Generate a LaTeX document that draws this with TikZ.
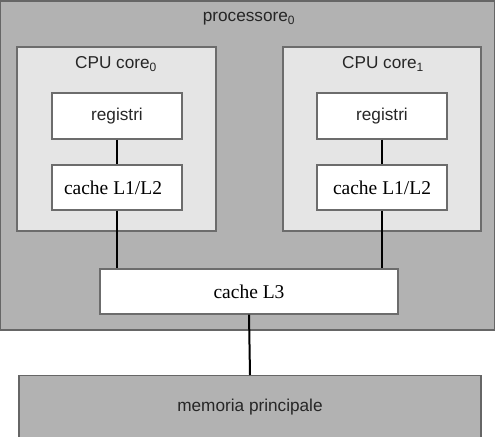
\documentclass[tikz,border=0pt]{standalone}
\usepackage{fontspec}
\setmainfont{Liberation Serif}
\newfontfamily\arialfont{Liberation Sans}
\begin{document}
\begin{tikzpicture}[x=1bp,y=-1bp,
  proc/.style={draw=gray!80!black,line width=1.2bp,fill=black!30},
  core/.style={draw=gray!85!black,line width=1.2bp,fill=black!10},
  wbox/.style={draw=gray!85!black,line width=1.2bp,fill=white},
  sanslbl/.style={font=\arialfont\fontsize{17.2bp}{20bp}\selectfont,text=black!85,inner sep=0pt},
  seriflbl/.style={font=\fontsize{19.5bp}{23bp}\selectfont,inner sep=0pt},
  conn/.style={line width=2bp,black}]
\useasboundingbox (0,0) rectangle (495,437);
\clip (0,0) rectangle (495,437);
% processor
\draw[proc] (0.6,0.8) rectangle (494.4,330);
\draw[draw=black!60,line width=2bp] (0,1) -- (495,1);
\node[sanslbl] (ptitle) at (249,19) {processore\textsubscript{0}};
% cores
\draw[core] (17,47) rectangle (216,231);
\draw[core] (283,47) rectangle (481,231);
\node[sanslbl] (c0t) at (116,64) {CPU core\textsubscript{0}};
\node[sanslbl] (c1t) at (383,64) {CPU core\textsubscript{1}};
% inner boxes
\node[wbox,minimum width=130bp,minimum height=46bp,inner sep=0pt] (r0) at (117,116) {};
\node[sanslbl] at (r0) {registri};
\node[wbox,minimum width=130bp,minimum height=45bp,inner sep=0pt] (l0) at (117,187.5) {};
\node[seriflbl] at ([xshift=-4bp]l0.center) {cache L1/L2};
\node[wbox,minimum width=130bp,minimum height=46bp,inner sep=0pt] (r1) at (382,116) {};
\node[sanslbl] at (r1) {registri};
\node[wbox,minimum width=130bp,minimum height=45bp,inner sep=0pt] (l1) at (382,187.5) {};
\node[seriflbl] at (l1) {cache L1/L2};
% L3
\node[wbox,minimum width=298bp,minimum height=45bp,inner sep=0pt] (l3) at (249,291.5) {};
\node[seriflbl] at (l3) {cache L3};
% memory
\node[proc,minimum width=462bp,minimum height=64bp,inner sep=0pt,anchor=north] (mem) at (250,375) {};
\node[sanslbl] at (250,407) {memoria principale};
% connectors
\draw[conn] (r0.south) -- (l0.north);
\draw[conn] (r1.south) -- (l1.north);
\draw[conn] (l0.south) -- (l0.south |- l3.north);
\draw[conn] (l1.south) -- (l1.south |- l3.north);
\draw[conn] (l3.south) -- (mem.north);
\end{tikzpicture}
\end{document}
